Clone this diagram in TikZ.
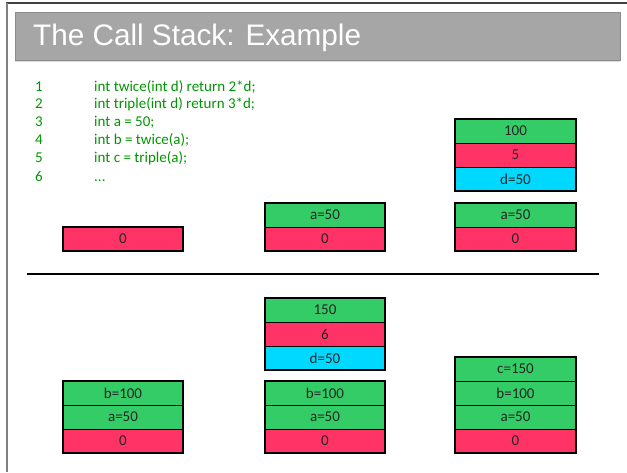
\documentclass[tikz,border=0pt]{standalone}
\usepackage{fontspec}
\setmainfont{Carlito}
\newfontfamily\titlefont{Liberation Sans}
\definecolor{cgreen}{RGB}{51,204,102}
\definecolor{cred}{RGB}{255,51,102}
\definecolor{ccyan}{RGB}{0,217,255}
\definecolor{codegreen}{RGB}{0,150,0}
\definecolor{barfill}{RGB}{166,166,166}
\definecolor{bardraw}{RGB}{140,140,140}
\tikzset{
  cell/.style={draw=black, line width=0.8pt, minimum width=120pt, minimum height=24pt,
    inner sep=0pt, text=black!85, font=\fontsize{15}{15}\selectfont},
  outerbox/.style={draw=black, line width=2pt},
  codeline/.style={anchor=base west, inner sep=0pt, text=codegreen, font=\fontsize{15}{15}\selectfont}
}
\begin{document}
\begin{tikzpicture}[x=1pt,y=-1pt]
\useasboundingbox (0,0) rectangle (627,472);
% frame
\draw[line width=1.5pt, black!75] (6,3) -- (627,3);
\draw[line width=2pt, black!50] (7,3) -- (7,472);
% title bar
\fill[black!15] (15,60) rectangle (620,62);
\node[draw=bardraw, fill=barfill, line width=1pt, minimum width=605pt, minimum height=48pt, inner sep=0pt] (bar) at (317.5,36) {};
\node[anchor=base west, inner sep=0pt, text=white, font=\titlefont\fontsize{29.7}{30}\selectfont] (title) at (33,45) {The Call Stack: Example};
% code
\node[codeline] (n1) at (35,91) {1};
\node[codeline] (n2) at (35,108.5) {2};
\node[codeline] (n3) at (35,126.5) {3};
\node[codeline] (n4) at (35,144.5) {4};
\node[codeline] (n5) at (35,162.5) {5};
\node[codeline] (n6) at (35,181.5) {6};
\node[codeline] (c1) at (94,91) {int twice(int d) return 2*d;};
\node[codeline] (c2) at (94,108.5) {int triple(int d) return 3*d;};
\node[codeline] (c3) at (94,126.5) {int a = 50;};
\node[codeline] (c4) at (94,144.5) {int b = twice(a);};
\node[codeline] (c5) at (94,162.5) {int c = triple(a);};
\node[codeline] (c6) at (94,181.5) {...};
% top half
\node[cell, fill=cred] (A0) at (123,239) {0};
\draw[outerbox] (A0.north west) rectangle (A0.south east);

\node[cell, fill=cgreen] (Ba) at (325,215) {a=50};
\node[cell, fill=cred] (B0) at (325,239) {0};
\draw[outerbox] (Ba.north west) rectangle (B0.south east);

\node[cell, fill=cgreen] (Cr) at (515.5,131) {100};
\node[cell, fill=cred] (Cl) at (515.5,155) {5};
\node[cell, fill=ccyan] (Cd) at (515.5,179) {d=50};
\draw[outerbox] (Cr.north west) rectangle (Cd.south east);
\node[cell, fill=cgreen] (Ca) at (515.5,215) {a=50};
\node[cell, fill=cred] (C0) at (515.5,239) {0};
\draw[outerbox] (Ca.north west) rectangle (C0.south east);

% separator
\coordinate (sepL) at (27,274);
\coordinate (sepR) at (599,274);
\draw[line width=2.5pt, black] (sepL) -- (sepR);

% bottom half
\node[cell, fill=cgreen] (Db) at (123,393) {b=100};
\node[cell, fill=cgreen] (Da) at (123,417) {a=50};
\node[cell, fill=cred] (D0) at (123,441) {0};
\draw[outerbox] (Db.north west) rectangle (D0.south east);

\node[cell, fill=cgreen] (Er) at (325,310) {150};
\node[cell, fill=cred] (El) at (325,334) {6};
\node[cell, fill=ccyan] (Ed) at (325,358) {d=50};
\draw[outerbox] (Er.north west) rectangle (Ed.south east);
\node[cell, fill=cgreen] (Eb) at (325,393) {b=100};
\node[cell, fill=cgreen] (Ea) at (325,417) {a=50};
\node[cell, fill=cred] (E0) at (325,441) {0};
\draw[outerbox] (Eb.north west) rectangle (E0.south east);

\node[cell, fill=cgreen] (Fc) at (515.5,369) {c=150};
\node[cell, fill=cgreen] (Fb) at (515.5,393) {b=100};
\node[cell, fill=cgreen] (Fa) at (515.5,417) {a=50};
\node[cell, fill=cred] (F0) at (515.5,441) {0};
\draw[outerbox] (Fc.north west) rectangle (F0.south east);
\end{tikzpicture}
\end{document}
